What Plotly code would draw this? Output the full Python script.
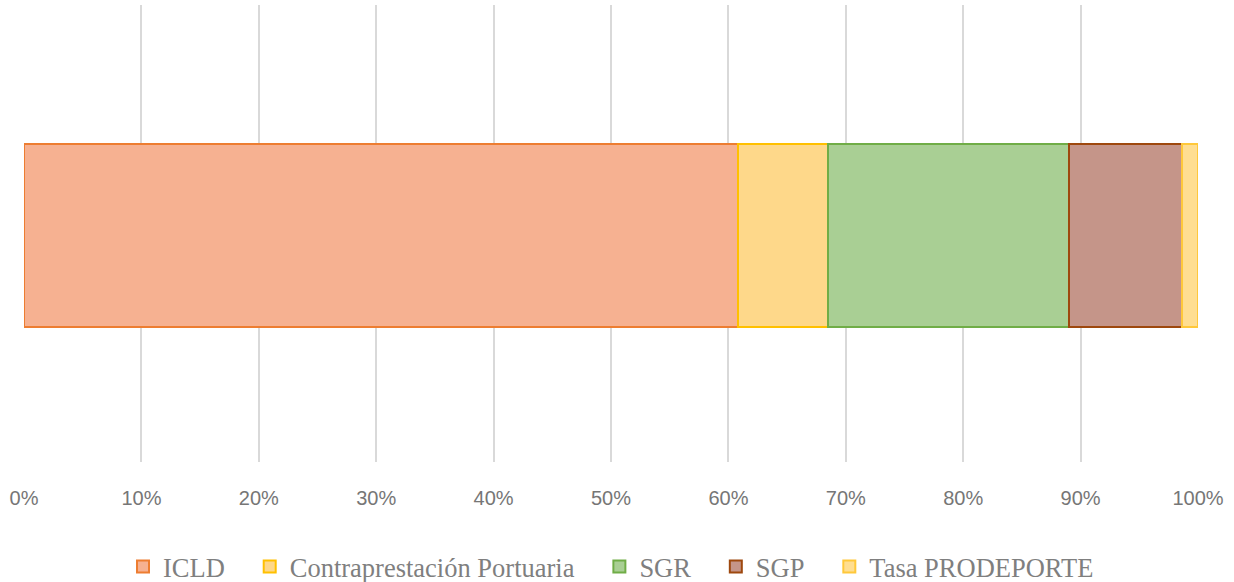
import plotly.graph_objects as go

categories = ["Total"]
series_names = ["ICLD", "Contraprestación Portuaria", "SGR", "SGP", "Tasa PRODEPORTE"]
icld = [60.8]
contraprestacion = [7.7]
sgr = [20.5]
sgp = [9.6]
tasa = [1.4]
tick_values = [0, 10, 20, 30, 40, 50, 60, 70, 80, 90, 100]
tick_labels = ["0%", "10%", "20%", "30%", "40%", "50%", "60%", "70%", "80%", "90%", "100%"]

series_values = [icld, contraprestacion, sgr, sgp, tasa]
fills = ["#F6B191", "#FED88A", "#A9CF94", "#C59589", "#FFDE91"]
borders = ["#ED7D31", "#FFC000", "#70AD47", "#9E480E", "#FFC83A"]

pad = "\u00a0\u00a0\u00a0"
fig = go.Figure()
for i, (name, vals, fc, bc) in enumerate(zip(series_names, series_values, fills, borders)):
    label = name + (pad if i < len(series_names) - 1 else "")
    fig.add_trace(go.Bar(
        y=[0], x=vals, name=label, orientation="h", width=0.4,
        marker=dict(color=fc, line=dict(color=bc, width=2)),
        hovertemplate=name + ": %{x}%<extra></extra>",
    ))

fig.update_layout(
    barmode="stack",
    width=1234, height=582,
    margin=dict(l=24, r=36, t=5, b=120, autoexpand=False),
    plot_bgcolor="white", paper_bgcolor="white",
    showlegend=True,
    legend=dict(orientation="h", x=0.5, xanchor="center",
                yref="container", y=0.026, yanchor="middle",
                font=dict(family="Liberation Serif", size=26.5, color="#7F7F7F"),
                traceorder="normal", itemwidth=30),
    xaxis=dict(range=[0, 100], tickvals=tick_values, ticktext=tick_labels,
               showgrid=True, gridcolor="#D9D9D9", gridwidth=1.5, zeroline=False,
               showline=False, ticks="", ticklabelstandoff=22,
               tickfont=dict(family="Liberation Sans", size=20, color="#767676")),
    yaxis=dict(range=[-0.4956, 0.5044], visible=False, showgrid=False),
)

fig.write_html("out.html", config={"displayModeBar": False},
               post_script="document.body.style.margin='0px';document.body.style.overflow='hidden';")
